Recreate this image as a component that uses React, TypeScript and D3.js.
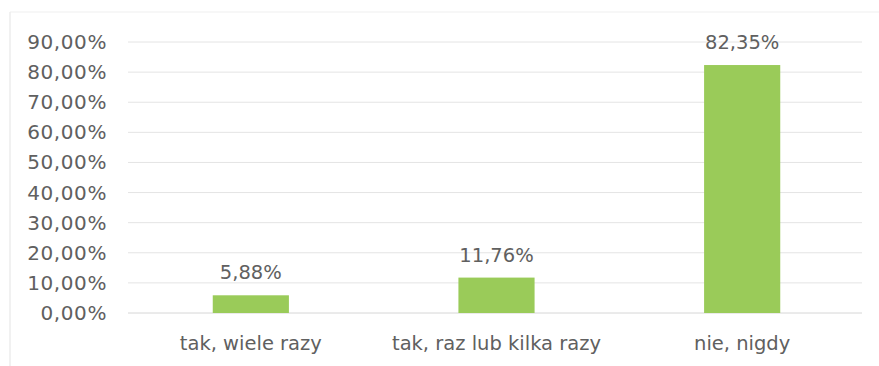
import React from "react";
import * as d3 from "d3";

const categories = ["tak, wiele razy", "tak, raz lub kilka razy", "nie, nigdy"];
const values = [5.88, 11.76, 82.35];
const yTicks = [0, 10, 20, 30, 40, 50, 60, 70, 80, 90];

const W = 879;
const H = 366;
const margin = { left: 128, right: 14, top: 42, bottom: 53 };

const fmt = (v: number) => v.toFixed(2).replace(".", ",") + "%";

export default function App() {
  const x = d3
    .scaleBand<string>()
    .domain(categories)
    .range([margin.left, W - margin.right])
    .paddingInner(0.69)
    .paddingOuter(0.345);
  const y = d3
    .scaleLinear()
    .domain([0, 90])
    .range([H - margin.bottom, margin.top]);

  const font = "'DejaVu Sans', Verdana, sans-serif";
  const textColor = "#606060";

  return (
    <svg
      width={W}
      height={H}
      style={{ position: "absolute", left: 0, top: 0, background: "#ffffff" }}
    >
      <line x1={10} y1={12} x2={W} y2={12} stroke="#efefef" strokeWidth={1} />
      <line x1={10} y1={12} x2={10} y2={H} stroke="#ececec" strokeWidth={1.5} />
      {yTicks.map((t) => (
        <g key={t}>
          <line
            x1={margin.left}
            x2={W - margin.right - 3}
            y1={y(t)}
            y2={y(t)}
            stroke={t === 0 ? "#d6d6d6" : "#e4e4e4"}
            strokeWidth={1}
          />
          <text
            x={107}
            y={y(t) + 7}
            textAnchor="end"
            fontFamily={font}
            fontSize={20}
            letterSpacing={0.6}
            fill={textColor}
          >
            {fmt(t)}
          </text>
        </g>
      ))}
      {categories.map((c, i) => (
        <g key={c}>
          <rect
            x={x(c)}
            y={y(values[i])}
            width={x.bandwidth()}
            height={y(0) - y(values[i])}
            fill="#9acb59"
          />
          <text
            x={(x(c) as number) + x.bandwidth() / 2}
            y={y(values[i]) - 16}
            textAnchor="middle"
            fontFamily={font}
            fontSize={19.5}
            fill={textColor}
          >
            {fmt(values[i])}
          </text>
          <text
            x={(x(c) as number) + x.bandwidth() / 2}
            y={350}
            textAnchor="middle"
            fontFamily={font}
            fontSize={19.5}
            fill={textColor}
          >
            {c}
          </text>
        </g>
      ))}
    </svg>
  );
}
